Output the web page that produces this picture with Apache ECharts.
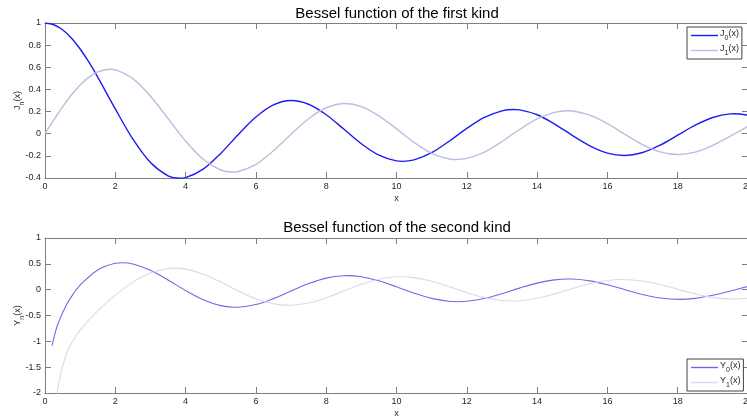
<!DOCTYPE html>
<html>
<head>
<meta charset="utf-8">
<title>Bessel functions</title>
<script src="https://cdn.jsdelivr.net/npm/echarts@6/dist/echarts.min.js"></script>
<style>
  html, body { margin: 0; padding: 0; background: #ffffff; }
  #chart { width: 747px; height: 417px; }
</style>
</head>
<body>
<div id="chart"></div>
<script>
// First kind: J0 and J1 (samples plus their turning points)
const j0X = [0, 0.25, 0.5, 0.75, 1, 1.25, 1.5, 2, 2.5, 3, 3.5, 3.8317, 4, 4.5, 5, 5.5, 6, 6.5, 7, 7.5, 8, 8.5, 9, 9.5,
  10, 10.1735, 10.5, 11, 11.5, 12, 12.5, 13, 13.3237, 13.5, 14, 14.5, 15, 15.5, 16, 16.4706, 17, 17.5,
  18, 18.5, 19, 19.5, 19.6159, 20];
const j0Y = [1.0000, 0.9844, 0.9385, 0.8642, 0.7652, 0.6459, 0.5118, 0.2239, -0.0484, -0.2601, -0.3801, -0.4028,
  -0.3971, -0.3205, -0.1776, -0.0068, 0.1506, 0.2601, 0.3001, 0.2663, 0.1717, 0.0419, -0.0903, -0.1939,
  -0.2459, -0.2497, -0.2366, -0.1712, -0.0677, 0.0477, 0.1469, 0.2069, 0.2184, 0.2150, 0.1711, 0.0875,
  -0.0142, -0.1092, -0.1749, -0.1965, -0.1699, -0.1031,
  -0.0134, 0.0773, 0.1466, 0.1789, 0.1801, 0.1670];

const j1X = [0, 0.25, 0.5, 0.75, 1, 1.25, 1.5, 1.8412, 2, 2.5, 3, 3.5, 4, 4.5, 5, 5.3314, 5.5, 6, 6.5, 7, 7.5, 8,
  8.5363, 9, 9.5, 10, 10.5, 11, 11.5, 11.706, 12, 12.5, 13, 13.5, 14, 14.5, 14.8636, 15, 15.5, 16, 16.5, 17,
  17.5, 18.0155, 18.5, 19, 19.5, 20];
const j1Y = [0.0000, 0.1240, 0.2423, 0.3492, 0.4401, 0.5106, 0.5579, 0.5819, 0.5767, 0.4971, 0.3391, 0.1374,
  -0.0660, -0.2311, -0.3276, -0.3461, -0.3414, -0.2767, -0.1538, -0.0047, 0.1352, 0.2346,
  0.2733, 0.2453, 0.1613, 0.0435, -0.0789, -0.1768, -0.2284, -0.2333, -0.2234, -0.1655, -0.0703, 0.0380,
  0.1334, 0.1933, 0.2077, 0.2051, 0.1671, 0.0904, -0.0058, -0.0977,
  -0.1635, -0.1880, -0.1666, -0.1057, -0.0209, 0.0668];

// Second kind: Y0 and Y1 (singular at 0, so sampling starts at 0.2)
const y0X = [0.2, 0.3, 0.4, 0.6, 0.8, 1, 1.5, 2, 2.1971, 2.5, 3, 3.5, 4, 4.5, 5, 5.4297, 5.5, 6, 6.5, 7, 7.5,
  8, 8.5, 8.596, 9, 9.5, 10, 10.5, 11, 11.5, 11.7492, 12, 12.5, 13, 13.5, 14, 14.5, 14.8974, 15, 15.5, 16,
  16.5, 17, 17.5, 18.0434, 18.5, 19, 19.5, 20];
const y0Y = [-1.0811, -0.8073, -0.6060, -0.3085, -0.0868, 0.0883, 0.3824, 0.5104, 0.5208, 0.4981, 0.3769,
  0.1890, -0.0169, -0.1947, -0.3085, -0.3403, -0.3395, -0.2882, -0.1732, -0.0259, 0.1173,
  0.2235, 0.2702, 0.2715, 0.2499, 0.1714, 0.0557, -0.0676, -0.1689, -0.2253, -0.2325, -0.2254, -0.1713,
  -0.0783, 0.0301, 0.1272, 0.1903, 0.2065, 0.2055, 0.1707, 0.0956,
  0.0002, -0.0927, -0.1603, -0.1877, -0.1687, -0.1095, -0.0255, 0.0627];

const y1X = [0.2, 0.3, 0.4, 0.6, 0.8, 1, 1.5, 2, 2.5, 3, 3.5, 3.683, 4, 4.5, 5, 5.5, 6, 6.5, 6.9415, 7, 7.5,
  8, 8.5, 9, 9.5, 10, 10.1234, 10.5, 11, 11.5, 12, 12.5, 13, 13.2858, 13.5, 14, 14.5, 15, 15.5, 16,
  16.4401, 17, 17.5, 18, 18.5, 19, 19.5902, 20];
const y1Y = [-3.3238, -2.2931, -1.7809, -1.2604, -0.9781, -0.7812, -0.4123, -0.1070, 0.1459, 0.3247,
  0.4102, 0.4168, 0.3979, 0.3001, 0.1479, -0.0238, -0.1750, -0.2741, -0.3032, -0.3027, -0.2591,
  -0.1581, -0.0262, 0.1043, 0.2030, 0.2490, 0.2500, 0.2335, 0.1637, 0.0573, -0.0571, -0.1537, -0.2101,
  -0.2184, -0.2139, -0.1666, -0.0810, 0.0211, 0.1147, 0.1778,
  0.1965, 0.1671, 0.0983, 0.0081, -0.0817, -0.1495, -0.1801, -0.1655];

const xTicks = { min: 0, max: 20, interval: 2 };
const firstRange = { min: -0.4, max: 1, interval: 0.2 };
const secondRange = { min: -2, max: 1, interval: 0.5 };

const FONT = "'Liberation Sans', Arial, sans-serif";
const AXIS_COLOR = '#7f7f7f';
const TEXT_COLOR = '#262626';

function pairs(xs, ys) { return xs.map((x, i) => [x, ys[i]]); }

// Rich styles for "X_n(x)" style labels
const richSub = {
  a: { fontFamily: FONT, fontSize: 9, color: TEXT_COLOR, lineHeight: 13, verticalAlign: 'top' },
  s: { fontFamily: FONT, fontSize: 7, color: TEXT_COLOR, lineHeight: 13, verticalAlign: 'bottom' }
};
function subLabel(base, sub) { return '{a|' + base + '}{s|' + sub + '}{a|(x)}'; }

const axisLineStyle = { show: true, onZero: false, lineStyle: { color: AXIS_COLOR, width: 1 } };
const axisTickStyle = { show: true, inside: true, length: 6, lineStyle: { color: AXIS_COLOR } };
const tickLabelStyle = { fontFamily: FONT, fontSize: 9, color: TEXT_COLOR, margin: 4 };

function xAxisPair(gridIndex) {
  return [
    {
      type: 'value', gridIndex, position: 'bottom', ...xTicks,
      name: 'x', nameLocation: 'middle', nameGap: 16, nameMoveOverlap: false,
      nameTextStyle: { fontFamily: FONT, fontSize: 9, color: TEXT_COLOR },
      axisLine: axisLineStyle, axisTick: axisTickStyle, axisLabel: tickLabelStyle,
      splitLine: { show: false }
    },
    {
      type: 'value', gridIndex, position: 'top', ...xTicks,
      axisLine: axisLineStyle, axisTick: axisTickStyle, axisLabel: { show: false },
      splitLine: { show: false }
    }
  ];
}

function yAxisPair(gridIndex, range, nameText) {
  return [
    {
      type: 'value', gridIndex, position: 'left', ...range,
      name: nameText, nameLocation: 'middle', nameGap: 19, nameRotate: 90, nameMoveOverlap: false,
      nameTextStyle: { rich: richSub },
      axisLine: axisLineStyle, axisTick: axisTickStyle, axisLabel: tickLabelStyle,
      splitLine: { show: false }
    },
    {
      type: 'value', gridIndex, position: 'right', ...range,
      axisLine: axisLineStyle, axisTick: axisTickStyle, axisLabel: { show: false },
      splitLine: { show: false }
    }
  ];
}

function legendBox(top, names, subs) {
  return {
    orient: 'vertical', left: 687, top,
    data: names,
    icon: 'rect',
    backgroundColor: '#ffffff',
    borderColor: '#404040', borderWidth: 1, borderRadius: 0,
    padding: [2, 3, 2, 4],
    itemGap: 2, itemWidth: 27, itemHeight: 1.4,
    formatter: (n) => subLabel(n.charAt(0), subs[names.indexOf(n)]),
    textStyle: { rich: richSub, padding: [0, 0, 0, -3] }
  };
}

const chart = echarts.init(document.getElementById('chart'), null, { renderer: 'canvas' });

chart.setOption({
  animation: false,
  backgroundColor: '#ffffff',
  title: [
    { text: 'Bessel function of the first kind', left: 397, top: 6, padding: 0, textAlign: 'center',
      textStyle: { fontFamily: FONT, fontSize: 15, fontWeight: 'normal', color: '#000000' } },
    { text: 'Bessel function of the second kind', left: 397, top: 220, padding: 0, textAlign: 'center',
      textStyle: { fontFamily: FONT, fontSize: 15, fontWeight: 'normal', color: '#000000' } }
  ],
  grid: [
    { left: 45, top: 23, width: 703, height: 155, outerBoundsMode: 'none', containLabel: false },
    { left: 45, top: 238, width: 703, height: 155, outerBoundsMode: 'none', containLabel: false }
  ],
  xAxis: [...xAxisPair(0), ...xAxisPair(1)],
  yAxis: [...yAxisPair(0, firstRange, subLabel('J', 'n')), ...yAxisPair(1, secondRange, subLabel('Y', 'n'))],
  legend: [
    legendBox(27, ['J0', 'J1'], ['0', '1']),
    legendBox(359, ['Y0', 'Y1'], ['0', '1'])
  ],
  series: [
    { name: 'J0', type: 'line', xAxisIndex: 0, yAxisIndex: 0, data: pairs(j0X, j0Y),
      smooth: 0.35, symbol: 'none', clip: true, lineStyle: { color: '#1c1cf2', width: 1.4 }, itemStyle: { color: '#1c1cf2' } },
    { name: 'J1', type: 'line', xAxisIndex: 0, yAxisIndex: 0, data: pairs(j1X, j1Y),
      smooth: 0.35, symbol: 'none', clip: true, lineStyle: { color: '#bdbddf', width: 1.4 }, itemStyle: { color: '#bdbddf' } },
    { name: 'Y0', type: 'line', xAxisIndex: 2, yAxisIndex: 2, data: pairs(y0X, y0Y),
      smooth: 0.35, symbol: 'none', clip: true, lineStyle: { color: '#6b6be6', width: 1.1 }, itemStyle: { color: '#6b6be6' } },
    { name: 'Y1', type: 'line', xAxisIndex: 2, yAxisIndex: 2, data: pairs(y1X, y1Y),
      smooth: 0.35, symbol: 'none', clip: true, lineStyle: { color: '#d9d9ef', width: 1.1 }, itemStyle: { color: '#d9d9ef' } }
  ]
});
</script>
</body>
</html>
